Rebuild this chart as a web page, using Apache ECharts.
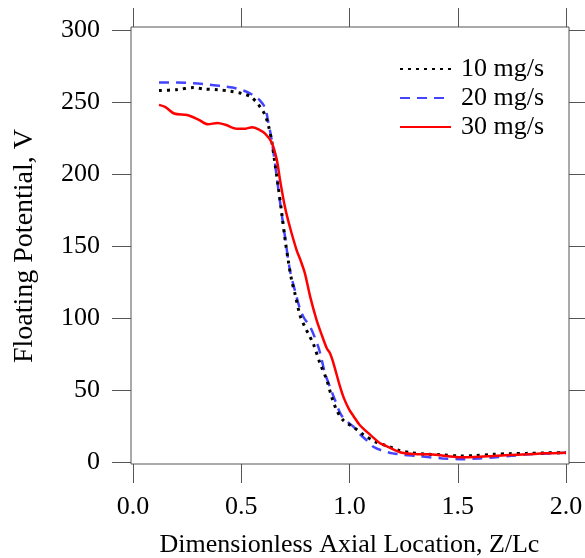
<!DOCTYPE html>
<html>
<head>
<meta charset="utf-8">
<script src="https://cdn.jsdelivr.net/npm/echarts@6/dist/echarts.min.js"></script>
<style>html,body{margin:0;padding:0;background:#fff}#c{width:585px;height:558px}</style>
</head>
<body>
<div id="c"></div>
<script>
const seriesNames = ['10 mg/s', '20 mg/s', '30 mg/s'];
const xTickLabels = ['0.0', '0.5', '1.0', '1.5', '2.0'];
const yTickLabels = ['0', '50', '100', '150', '200', '250', '300'];
const xTitle = 'Dimensionless Axial Location, Z/Lc';
const yTitle = 'Floating Potential, V';

const flow10 = [[0.12,258],[0.2,258.5],[0.28,260],[0.33,259],[0.39,258.5],[0.45,257.5],[0.5,256],[0.54,254],[0.57,250],[0.59,246],[0.61,241],[0.625,234],[0.64,223.5],[0.656,207],[0.671,191],[0.687,173],[0.702,155],[0.717,140],[0.733,126],[0.748,117],[0.771,102],[0.79,95],[0.81,89],[0.833,82],[0.864,68.5],[0.895,57],[0.918,45],[0.941,36],[0.971,29],[1.02,24],[1.064,19],[1.12,14],[1.187,10.5],[1.23,8],[1.28,6.5],[1.35,5.5],[1.43,5],[1.51,4.2],[1.58,4.5],[1.664,5.3],[1.74,5.8],[1.818,6],[1.9,6.3],[2.0,6.5]];
const flow20 = [[0.12,263.5],[0.2,263.5],[0.28,263],[0.356,262],[0.41,261],[0.46,260],[0.51,258],[0.54,256],[0.565,253.5],[0.587,251],[0.61,246],[0.625,236],[0.64,224],[0.656,207],[0.671,190],[0.687,172],[0.702,156.5],[0.725,133],[0.748,119],[0.771,106.5],[0.79,100],[0.818,94],[0.856,80],[0.87,72],[0.887,61.5],[0.91,52],[0.933,43],[0.96,33],[0.99,28],[1.018,24.5],[1.05,19],[1.08,15],[1.11,10.6],[1.15,8],[1.2,6],[1.25,5],[1.31,4.2],[1.37,3.3],[1.43,2.5],[1.526,1.9],[1.6,2.5],[1.664,3.2],[1.75,4.3],[1.85,5.5],[1.93,6],[2.0,6.5]];
const flow30 = [[0.12,248],[0.15,246.5],[0.19,242],[0.25,241],[0.3,238],[0.347,234.5],[0.39,235.5],[0.43,234],[0.48,231.5],[0.52,231.5],[0.55,232.5],[0.58,231],[0.61,228],[0.64,222],[0.664,210],[0.679,196],[0.702,177],[0.725,163],[0.756,147],[0.774,140],[0.794,131],[0.818,115],[0.848,98.5],[0.87,89],[0.895,79],[0.91,75.5],[0.925,69],[0.956,52.5],[0.975,44],[1.0,36],[1.018,32],[1.048,25.5],[1.095,19],[1.141,13],[1.156,12],[1.233,6.8],[1.3,5.5],[1.357,5.3],[1.41,4.8],[1.449,4.2],[1.51,3.3],[1.58,3.5],[1.664,4.2],[1.74,4.8],[1.818,5.3],[1.9,6],[2.0,6.5]];

const FONT = '"Liberation Serif", "Times New Roman", serif';
const GRAY = '#555';
const chart = echarts.init(document.getElementById('c'), null, {renderer: 'canvas'});

function xAxisCfg(pos, offset, labels) {
  return {
    type: 'value', min: 0, max: 2, interval: 0.5, position: pos, offset: offset,
    axisLine: {show: false, onZero: false},
    axisTick: {show: true, inside: false, length: 19, lineStyle: {color: GRAY, width: 1}},
    axisLabel: labels ? {show: true, margin: 30, color: '#000', fontFamily: FONT, fontSize: 26,
      formatter: v => xTickLabels[Math.round(v / 0.5)]} : {show: false},
    splitLine: {show: false},
    name: labels ? xTitle : '', nameLocation: 'middle', nameGap: 68,
    nameTextStyle: {color: '#000', fontFamily: FONT, fontSize: 26}
  };
}
function yAxisCfg(pos, offset, labels) {
  return {
    type: 'value', min: 0, max: 300, interval: 50, position: pos, offset: offset,
    axisLine: {show: false, onZero: false},
    axisTick: {show: true, inside: false, length: 19, lineStyle: {color: GRAY, width: 1}},
    axisLabel: labels ? {show: true, margin: 31, color: '#000', fontFamily: FONT, fontSize: 26,
      formatter: v => yTickLabels[Math.round(v / 50)]} : {show: false},
    splitLine: {show: false},
    name: labels ? yTitle : '', nameLocation: 'middle', nameGap: 92,
    nameTextStyle: {color: '#000', fontFamily: FONT, fontSize: 28}
  };
}

chart.setOption({
  animation: false,
  backgroundColor: '#fff',
  grid: {left: 133, top: 30, width: 433, height: 432, containLabel: false, outerBoundsMode: 'none'},
  xAxis: [xAxisCfg('bottom', 2, true), xAxisCfg('top', 3, false)],
  yAxis: [yAxisCfg('left', 2, true), yAxisCfg('right', 3, false)],
  legend: {
    orient: 'vertical', left: 399, top: 56, padding: 0, itemWidth: 51, itemHeight: 14, itemGap: 3,
    itemStyle: {opacity: 0},
    textStyle: {color: '#000', fontFamily: FONT, fontSize: 26, padding: [0, 0, 0, 5]},
    data: seriesNames
  },
  graphic: [{
    type: 'rect', shape: {x: 131, y: 27, width: 438, height: 437},
    style: {fill: null, stroke: GRAY, lineWidth: 1}, z: 0, silent: true
  }],
  series: [
    {name: seriesNames[0], type: 'line', data: flow10, symbol: 'none', smooth: 0.3,
      lineStyle: {color: '#000', width: 3, type: [3, 5]}, itemStyle: {color: '#000'}, z: 3},
    {name: seriesNames[1], type: 'line', data: flow20, symbol: 'none', smooth: 0.3,
      lineStyle: {color: '#4444ff', width: 2.5, type: [10, 7]}, itemStyle: {color: '#4444ff'}, z: 2},
    {name: seriesNames[2], type: 'line', data: flow30, symbol: 'none', smooth: 0.3,
      lineStyle: {color: '#ff0000', width: 2.5}, itemStyle: {color: '#ff0000'}, z: 4}
  ]
});
</script>
</body>
</html>
